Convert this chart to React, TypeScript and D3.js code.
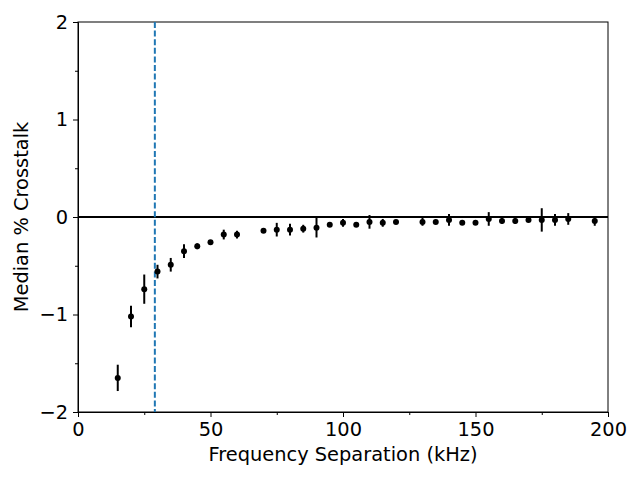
import * as d3 from "d3";
import { useEffect, useRef } from "react";

// frequency separation (kHz), median crosstalk (%) and error half-widths
const freqs = [15, 20, 25, 30, 35, 40, 45, 50, 55, 60, 70, 75, 80, 85, 90, 95, 100, 105, 110, 115, 120,
  130, 135, 140, 145, 150, 155, 160, 165, 170, 175, 180, 185, 195];
const medians = [-1.65, -1.02, -0.74, -0.56, -0.49, -0.35, -0.3, -0.26, -0.18, -0.18, -0.14, -0.13, -0.13,
  -0.12, -0.11, -0.08, -0.06, -0.08, -0.05, -0.06, -0.05, -0.05, -0.05, -0.03, -0.06, -0.06, -0.02, -0.04,
  -0.04, -0.03, -0.03, -0.03, -0.02, -0.04];
const errors = [0.135, 0.11, 0.15, 0.07, 0.07, 0.07, 0.03, 0.02, 0.05, 0.04, 0.02, 0.07, 0.06, 0.04, 0.1,
  0.02, 0.04, 0.02, 0.07, 0.04, 0.02, 0.04, 0.02, 0.06, 0.02, 0.02, 0.07, 0.03, 0.03, 0.02, 0.12, 0.06,
  0.06, 0.05];
const cutoff = 29;
const xTicks = [0, 50, 100, 150, 200];
const yTicks = [-2, -1, 0, 1, 2];

const App = () => {
  const ref = useRef<SVGSVGElement>(null);

  useEffect(() => {
    const margin = { top: 22, right: 32, bottom: 68, left: 78 },
      width = 640 - margin.left - margin.right,
      height = 480 - margin.top - margin.bottom;

    const root = d3.select(ref.current);
    root.selectAll("*").remove();
    const svg = root.append("g").attr("transform", `translate(${margin.left},${margin.top})`);

    const x = d3.scaleLinear().domain([0, 200]).range([0, width]);
    const y = d3.scaleLinear().domain([-2, 2]).range([height, 0]);
    const font = "DejaVu Sans, sans-serif";
    const fs = 19.4;

    // X axis
    const xAxis = svg.append("g")
      .attr("transform", `translate(0,${height})`)
      .call(d3.axisBottom(x).tickValues(xTicks).tickSize(5).tickPadding(5).tickFormat(d3.format("d")));
    svg.append("g")
      .attr("transform", `translate(0,${height})`)
      .call(d3.axisBottom(x).tickValues([25, 75, 125, 175]).tickSize(3).tickFormat(() => ""))
      .select(".domain").remove();

    // Y axis
    const yAxis = svg.append("g")
      .call(d3.axisLeft(y).tickValues(yTicks).tickSize(5).tickPadding(5)
        .tickFormat((d) => (+d < 0 ? "\u2212" + Math.abs(+d) : String(d))));
    svg.append("g")
      .call(d3.axisLeft(y).tickValues([-1.5, -0.5, 0.5, 1.5]).tickSize(3).tickFormat(() => ""))
      .select(".domain").remove();

    [xAxis, yAxis].forEach((a) => {
      a.selectAll("text").attr("font-family", font).attr("font-size", fs).attr("fill", "#000");
      a.selectAll("line").attr("stroke", "#000");
    });

    // frame
    svg.append("rect").attr("width", width).attr("height", height)
      .attr("fill", "none").attr("stroke", "#000").attr("stroke-width", 1);

    // zero line
    svg.append("line")
      .attr("x1", 0).attr("x2", width).attr("y1", y(0)).attr("y2", y(0))
      .attr("stroke", "#000").attr("stroke-width", 2);

    // cutoff line
    svg.append("line")
      .attr("x1", x(cutoff)).attr("x2", x(cutoff)).attr("y1", 0).attr("y2", height)
      .attr("stroke", "#1f77b4").attr("stroke-width", 2).attr("stroke-dasharray", "6,2.6");

    const data = freqs.map((f, i) => ({ f, m: medians[i], e: errors[i] }));

    // error bars
    svg.selectAll("line.err").data(data).join("line").attr("class", "err")
      .attr("x1", (d) => x(d.f)).attr("x2", (d) => x(d.f))
      .attr("y1", (d) => y(d.m - d.e)).attr("y2", (d) => y(d.m + d.e))
      .attr("stroke", "#000").attr("stroke-width", 2);

    // points
    svg.selectAll("circle").data(data).join("circle")
      .attr("cx", (d) => x(d.f)).attr("cy", (d) => y(d.m)).attr("r", 3).attr("fill", "#000");

    // labels
    svg.append("text")
      .attr("x", width / 2).attr("y", height + 49)
      .attr("text-anchor", "middle").attr("font-family", font).attr("font-size", fs)
      .text("Frequency Separation (kHz)");
    svg.append("text")
      .attr("transform", `translate(${-50},${height / 2}) rotate(-90)`)
      .attr("text-anchor", "middle").attr("font-family", font).attr("font-size", fs)
      .text("Median % Crosstalk");
  }, []);

  return <svg width={640} height={480} ref={ref} style={{ display: "block", margin: -8 }} />;
};

export default App;
